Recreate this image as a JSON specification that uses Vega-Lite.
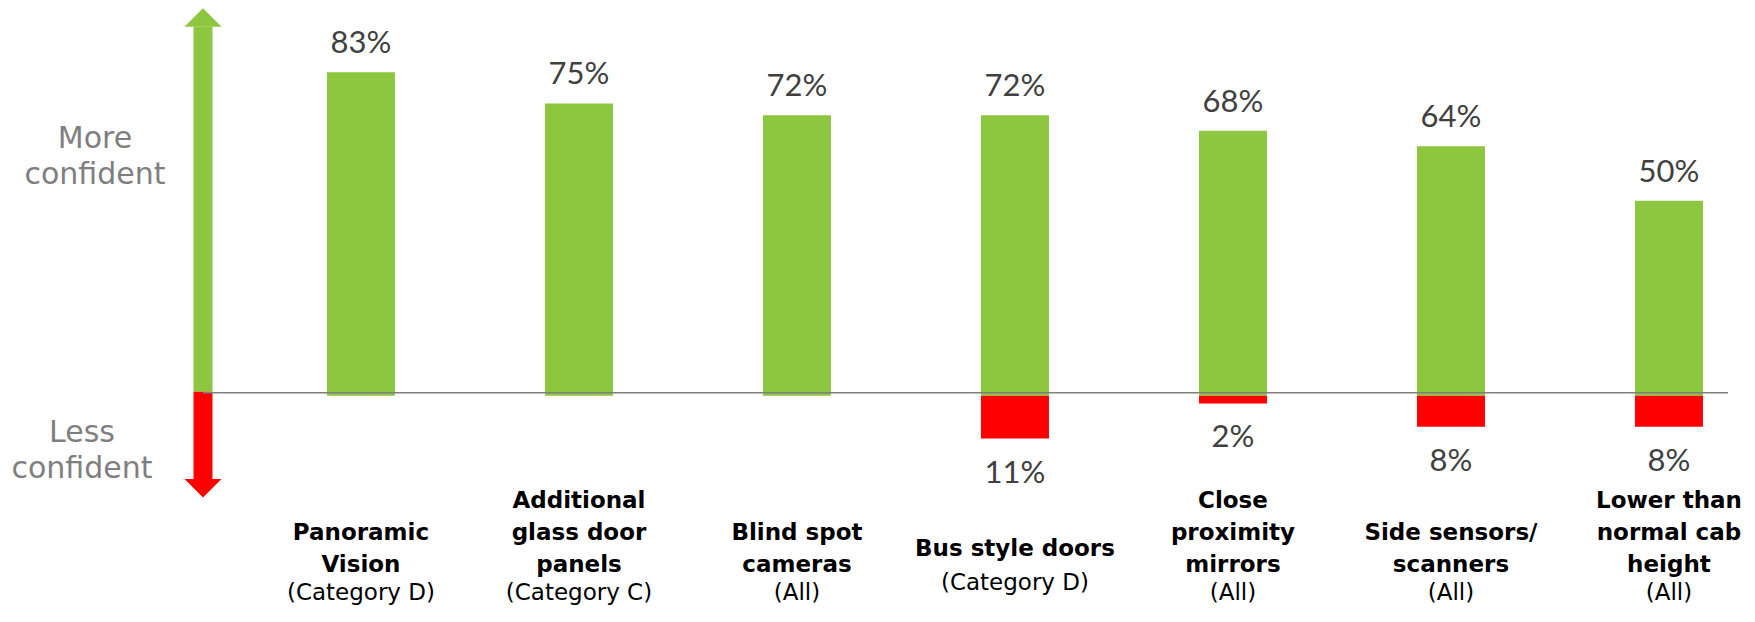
{
  "$schema": "https://vega.github.io/schema/vega-lite/v6.json",
  "width": 1525,
  "height": 489,
  "autosize": {"type": "none"},
  "padding": {"left": 203, "top": 8, "right": 27, "bottom": 125},
  "config": {
    "view": {"stroke": null},
    "font": "DejaVu Sans",
    "locale": {"number": {"decimal": ".", "thousands": ",", "grouping": [3], "currency": ["", ""], "minus": ""}}
  },
  "datasets": {
    "bars": [
      {"feature": "Panoramic Vision", "type": "More confident", "value": 0.83},
      {"feature": "Additional glass door panels", "type": "More confident", "value": 0.75},
      {"feature": "Blind spot cameras", "type": "More confident", "value": 0.72},
      {"feature": "Bus style doors", "type": "More confident", "value": 0.72},
      {"feature": "Close proximity mirrors", "type": "More confident", "value": 0.68},
      {"feature": "Side sensors/ scanners", "type": "More confident", "value": 0.64},
      {"feature": "Lower than normal cab height", "type": "More confident", "value": 0.50},
      {"feature": "Bus style doors", "type": "Less confident", "value": -0.11},
      {"feature": "Close proximity mirrors", "type": "Less confident", "value": -0.02},
      {"feature": "Side sensors/ scanners", "type": "Less confident", "value": -0.08},
      {"feature": "Lower than normal cab height", "type": "Less confident", "value": -0.08}
    ],
    "features": [
      {"feature": "Panoramic Vision", "name": "Panoramic|Vision", "lines": 2, "sub": "(Category D)"},
      {"feature": "Additional glass door panels", "name": "Additional|glass door|panels", "lines": 3, "sub": "(Category C)"},
      {"feature": "Blind spot cameras", "name": "Blind spot|cameras", "lines": 2, "sub": "(All)"},
      {"feature": "Bus style doors", "name": "Bus style doors", "lines": 1, "sub": "(Category D)"},
      {"feature": "Close proximity mirrors", "name": "Close|proximity|mirrors", "lines": 3, "sub": "(All)"},
      {"feature": "Side sensors/ scanners", "name": "Side sensors/|scanners", "lines": 2, "sub": "(All)"},
      {"feature": "Lower than normal cab height", "name": "Lower than|normal cab|height", "lines": 3, "sub": "(All)"}
    ],
    "arrows": [
      {"dir": "up", "from": 0.01, "to": 0.947, "label": "More|confident"},
      {"dir": "down", "from": 0.01, "to": -0.214, "label": "Less|confident"}
    ]
  },
  "layer": [
    {
      "data": {"name": "arrows"},
      "layer": [
        {
          "mark": {"type": "rule", "strokeWidth": 19, "strokeCap": "butt"},
          "encoding": {
            "x": {"datum": 0, "type": "quantitative", "scale": {"domain": [0, 1]}, "axis": null},
            "y": {"field": "from", "type": "quantitative", "scale": {"domain": [-0.26, 0.995], "nice": false, "zero": false}, "axis": null},
            "y2": {"field": "to"},
            "color": {"field": "dir", "type": "nominal", "scale": {"domain": ["up", "down"], "range": ["#8DC63F", "#FF0000"]}, "legend": null}
          }
        },
        {
          "mark": {"type": "point", "filled": true, "size": 1369, "strokeWidth": 0, "opacity": 1},
          "encoding": {
            "x": {"datum": 0, "type": "quantitative", "scale": {"domain": [0, 1]}, "axis": null},
            "y": {"field": "to", "type": "quantitative", "scale": {"domain": [-0.26, 0.995], "nice": false, "zero": false}, "axis": null},
            "shape": {"field": "dir", "type": "nominal", "scale": {"domain": ["up", "down"], "range": ["M-1,0L0,-1L1,0Z", "M-1,0L0,1L1,0Z"]}, "legend": null},
            "color": {"field": "dir", "type": "nominal", "scale": {"domain": ["up", "down"], "range": ["#8DC63F", "#FF0000"]}, "legend": null}
          }
        },
        {
          "transform": [{"filter": "datum.dir == 'up'"}],
          "mark": {"type": "text", "lineBreak": "|", "fontSize": 30, "lineHeight": 36, "color": "#7F7F7F", "align": "center", "baseline": "alphabetic", "dx": -108},
          "encoding": {
            "x": {"datum": 0, "type": "quantitative", "scale": {"domain": [0, 1]}, "axis": null},
            "y": {"datum": 0.6358, "type": "quantitative", "scale": {"domain": [-0.26, 0.995], "nice": false, "zero": false}, "axis": null},
            "text": {"field": "label"}
          }
        },
        {
          "transform": [{"filter": "datum.dir == 'down'"}],
          "mark": {"type": "text", "lineBreak": "|", "fontSize": 30, "lineHeight": 36, "color": "#7F7F7F", "align": "center", "baseline": "alphabetic", "dx": -121},
          "encoding": {
            "x": {"datum": 0, "type": "quantitative", "scale": {"domain": [0, 1]}, "axis": null},
            "y": {"datum": -0.1188, "type": "quantitative", "scale": {"domain": [-0.26, 0.995], "nice": false, "zero": false}, "axis": null},
            "text": {"field": "label"}
          }
        }
      ]
    },
    {
      "layer": [
        {
          "data": {"name": "bars"},
          "mark": {"type": "bar"},
          "encoding": {
            "x": {"field": "feature", "type": "nominal", "sort": null, "axis": null,
                  "scale": {"domain": ["Panoramic Vision", "Additional glass door panels", "Blind spot cameras", "Bus style doors", "Close proximity mirrors", "Side sensors/ scanners", "Lower than normal cab height"], "paddingInner": 0.688, "paddingOuter": 0.3417, "align": 0.832}},
            "y": {"field": "value", "type": "quantitative", "scale": {"domain": [-0.26, 0.995], "nice": false, "zero": false}, "axis": null},
            "color": {"field": "type", "type": "nominal", "scale": {"domain": ["More confident", "Less confident"], "range": ["#8DC63F", "#FF0000"]}, "legend": null}
          }
        },
        {
          "data": {"values": [{"zero": 0}]},
          "mark": {"type": "rule", "color": "#7F7F7F", "strokeWidth": 1.6, "yOffset": -3},
          "encoding": {
            "y": {"field": "zero", "type": "quantitative", "scale": {"domain": [-0.26, 0.995], "nice": false, "zero": false}, "axis": null}
          }
        },
        {
          "data": {"name": "bars"},
          "transform": [{"filter": "datum.value > 0"}],
          "mark": {"type": "text", "font": "Lato", "fontSize": 31, "color": "#404040", "align": "center", "baseline": "alphabetic", "dy": -19},
          "encoding": {
            "x": {"field": "feature", "type": "nominal", "sort": null, "axis": null,
                  "scale": {"domain": ["Panoramic Vision", "Additional glass door panels", "Blind spot cameras", "Bus style doors", "Close proximity mirrors", "Side sensors/ scanners", "Lower than normal cab height"], "paddingInner": 0.688, "paddingOuter": 0.3417, "align": 0.832}},
            "y": {"field": "value", "type": "quantitative", "scale": {"domain": [-0.26, 0.995], "nice": false, "zero": false}, "axis": null},
            "text": {"field": "value", "type": "quantitative", "format": ".0%"}
          }
        },
        {
          "data": {"name": "bars"},
          "transform": [{"filter": "datum.value < 0"}],
          "mark": {"type": "text", "font": "Lato", "fontSize": 31, "color": "#404040", "align": "center", "baseline": "alphabetic", "dy": 44},
          "encoding": {
            "x": {"field": "feature", "type": "nominal", "sort": null, "axis": null,
                  "scale": {"domain": ["Panoramic Vision", "Additional glass door panels", "Blind spot cameras", "Bus style doors", "Close proximity mirrors", "Side sensors/ scanners", "Lower than normal cab height"], "paddingInner": 0.688, "paddingOuter": 0.3417, "align": 0.832}},
            "y": {"field": "value", "type": "quantitative", "scale": {"domain": [-0.26, 0.995], "nice": false, "zero": false}, "axis": null},
            "text": {"field": "value", "type": "quantitative", "format": ".0%"}
          }
        },
        {
          "data": {"name": "features"},
          "transform": [{"filter": "datum.lines == 3"}],
          "mark": {"type": "text", "lineBreak": "|", "fontSize": 23, "fontWeight": "bold", "lineHeight": 32, "color": "#000000", "align": "center", "baseline": "alphabetic"},
          "encoding": {
            "x": {"field": "feature", "type": "nominal", "sort": null, "axis": null,
                  "scale": {"domain": ["Panoramic Vision", "Additional glass door panels", "Blind spot cameras", "Bus style doors", "Close proximity mirrors", "Side sensors/ scanners", "Lower than normal cab height"], "paddingInner": 0.688, "paddingOuter": 0.3417, "align": 0.832}},
            "y": {"datum": -0.2882, "type": "quantitative", "scale": {"domain": [-0.26, 0.995], "nice": false, "zero": false}, "axis": null},
            "text": {"field": "name"}
          }
        },
        {
          "data": {"name": "features"},
          "transform": [{"filter": "datum.lines == 2"}],
          "mark": {"type": "text", "lineBreak": "|", "fontSize": 23, "fontWeight": "bold", "lineHeight": 32, "color": "#000000", "align": "center", "baseline": "alphabetic"},
          "encoding": {
            "x": {"field": "feature", "type": "nominal", "sort": null, "axis": null,
                  "scale": {"domain": ["Panoramic Vision", "Additional glass door panels", "Blind spot cameras", "Bus style doors", "Close proximity mirrors", "Side sensors/ scanners", "Lower than normal cab height"], "paddingInner": 0.688, "paddingOuter": 0.3417, "align": 0.832}},
            "y": {"datum": -0.3704, "type": "quantitative", "scale": {"domain": [-0.26, 0.995], "nice": false, "zero": false}, "axis": null},
            "text": {"field": "name"}
          }
        },
        {
          "data": {"name": "features"},
          "transform": [{"filter": "datum.lines == 1"}],
          "mark": {"type": "text", "fontSize": 23, "fontWeight": "bold", "color": "#000000", "align": "center", "baseline": "alphabetic"},
          "encoding": {
            "x": {"field": "feature", "type": "nominal", "sort": null, "axis": null,
                  "scale": {"domain": ["Panoramic Vision", "Additional glass door panels", "Blind spot cameras", "Bus style doors", "Close proximity mirrors", "Side sensors/ scanners", "Lower than normal cab height"], "paddingInner": 0.688, "paddingOuter": 0.3417, "align": 0.832}},
            "y": {"datum": -0.4114, "type": "quantitative", "scale": {"domain": [-0.26, 0.995], "nice": false, "zero": false}, "axis": null},
            "text": {"field": "name"}
          }
        },
        {
          "data": {"name": "features"},
          "transform": [{"filter": "datum.lines > 1"}],
          "mark": {"type": "text", "fontSize": 23, "color": "#000000", "align": "center", "baseline": "alphabetic"},
          "encoding": {
            "x": {"field": "feature", "type": "nominal", "sort": null, "axis": null,
                  "scale": {"domain": ["Panoramic Vision", "Additional glass door panels", "Blind spot cameras", "Bus style doors", "Close proximity mirrors", "Side sensors/ scanners", "Lower than normal cab height"], "paddingInner": 0.688, "paddingOuter": 0.3417, "align": 0.832}},
            "y": {"datum": -0.5244, "type": "quantitative", "scale": {"domain": [-0.26, 0.995], "nice": false, "zero": false}, "axis": null},
            "text": {"field": "sub"}
          }
        },
        {
          "data": {"name": "features"},
          "transform": [{"filter": "datum.lines == 1"}],
          "mark": {"type": "text", "fontSize": 23, "color": "#000000", "align": "center", "baseline": "alphabetic"},
          "encoding": {
            "x": {"field": "feature", "type": "nominal", "sort": null, "axis": null,
                  "scale": {"domain": ["Panoramic Vision", "Additional glass door panels", "Blind spot cameras", "Bus style doors", "Close proximity mirrors", "Side sensors/ scanners", "Lower than normal cab height"], "paddingInner": 0.688, "paddingOuter": 0.3417, "align": 0.832}},
            "y": {"datum": -0.4988, "type": "quantitative", "scale": {"domain": [-0.26, 0.995], "nice": false, "zero": false}, "axis": null},
            "text": {"field": "sub"}
          }
        }
      ]
    }
  ],
  "resolve": {"scale": {"x": "independent"}}
}
